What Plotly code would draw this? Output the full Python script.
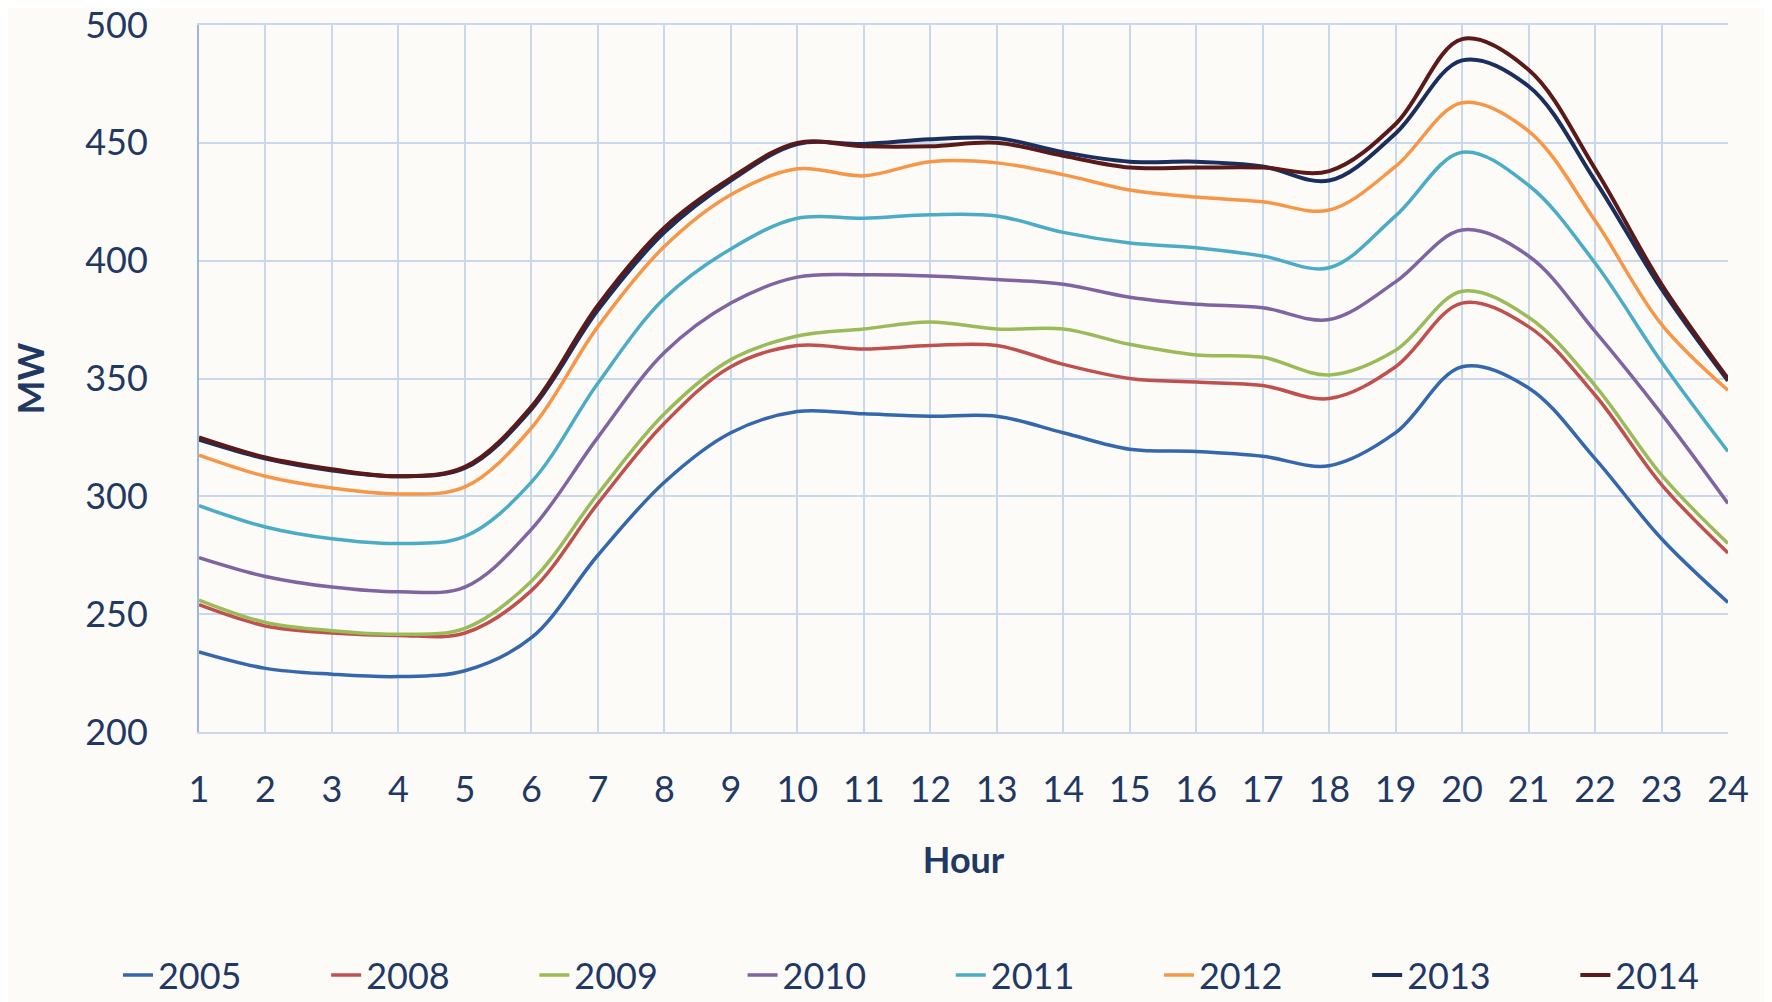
import plotly.graph_objects as go

hours = list(range(1, 25))
years = ["2005", "2008", "2009", "2010", "2011", "2012", "2013", "2014"]

mw_2005 = [234, 227, 224.5, 223.5, 226, 240, 275, 306, 327, 336, 335, 334, 334, 327, 320, 319, 317, 313, 327, 355, 346, 316, 282, 255]
mw_2008 = [254, 245, 242, 241, 242, 260, 297, 331, 355, 364, 362.5, 364, 364, 356, 350, 348.5, 347, 341.5, 355, 382, 372, 343, 305, 276]
mw_2009 = [256, 246.5, 243, 241.5, 244, 264, 301, 335, 358, 368, 371, 374, 371, 371, 364.5, 360, 359, 351.5, 362, 387, 376, 347, 309, 280]
mw_2010 = [274, 266, 261.5, 259.5, 261.5, 286, 325, 361, 382, 393, 394, 393.5, 392, 390, 384.5, 381.5, 380, 375, 391, 413, 402, 370, 335, 297]
mw_2011 = [296, 287, 282, 280, 283, 306, 348, 384, 405, 418, 418, 419.5, 419, 412, 407.5, 405.5, 402, 397, 419, 446, 432, 399, 357, 319]
mw_2012 = [317.5, 308.5, 303.5, 301, 304, 329, 372, 406, 428, 439, 436, 442, 441.5, 436.5, 430, 427, 425, 421.5, 440, 467, 455, 417, 373, 345]
mw_2013 = [324, 316, 311, 308.5, 312, 337, 379, 412, 434, 449.5, 449.5, 451.5, 452, 446, 442, 442, 440, 434, 454, 485, 474, 434, 388, 349]
mw_2014 = [325, 316.5, 311.5, 308.5, 312.5, 338, 381, 414, 435, 450, 448.5, 448.5, 450, 444.5, 439.5, 439.5, 439.5, 438, 458, 494, 481, 439, 390, 350]

series = [mw_2005, mw_2008, mw_2009, mw_2010, mw_2011, mw_2012, mw_2013, mw_2014]
colors = ["#3567AC", "#C0504D", "#9BBB59", "#8064A2", "#4BACC6", "#F79646", "#1B2F5E", "#5A1A1A"]
widths = [3.5, 3.5, 3.5, 3.5, 3.5, 3.5, 4, 4]

FONT = "Lato, 'Open Sans', sans-serif"
TXT = "#1F3864"
GRID = "#C9D8EC"

# The page body adds an 8 px margin, so the figure is 8 px smaller than the window.
W, H = 1764, 994

fig = go.Figure()
for name, vals, col, w in zip(years, series, colors, widths):
    fig.add_trace(go.Scatter(
        x=hours, y=vals, name=name, mode="lines",
        line=dict(color=col, width=w, shape="spline", smoothing=1.0),
    ))

fig.update_layout(
    width=W, height=H,
    margin=dict(l=191, r=44, t=17, b=270, autoexpand=False),
    paper_bgcolor="#FCFBF8", plot_bgcolor="#FCFBF8",
    font=dict(family=FONT, color=TXT),
    showlegend=True,
    legend=dict(
        orientation="h", xref="paper", yref="paper",
        x=-0.053, xanchor="left", y=-0.344, yanchor="middle",
        font=dict(size=36, color=TXT), entrywidth=163.2, entrywidthmode="pixels",
        bgcolor="rgba(0,0,0,0)",
    ),
    xaxis=dict(
        range=[1, 24], tickmode="array", tickvals=hours, ticktext=[str(h) for h in hours],
        showgrid=True, gridcolor=GRID, gridwidth=2,
        showline=True, linecolor=GRID, linewidth=2, mirror=True,
        zeroline=False, ticks="", ticklabelstandoff=25, automargin=False,
        ticklabeloverflow="allow",
        tickfont=dict(size=36, color=TXT),
        title=dict(text="<b>Hour</b>", font=dict(size=36, color=TXT), standoff=39),
    ),
    yaxis=dict(
        range=[200, 500], tickmode="array", tickvals=[200, 250, 300, 350, 400, 450, 500],
        showgrid=True, gridcolor=GRID, gridwidth=2,
        showline=True, linecolor="#9DB7DC", linewidth=2,
        zeroline=False, ticks="", ticklabelstandoff=42, automargin=False,
        ticklabeloverflow="allow",
        tickfont=dict(size=36, color=TXT),
        title=dict(text="<b>MW</b>", font=dict(size=36, color=TXT), standoff=34),
    ),
)

fig.write_html("out.html")
